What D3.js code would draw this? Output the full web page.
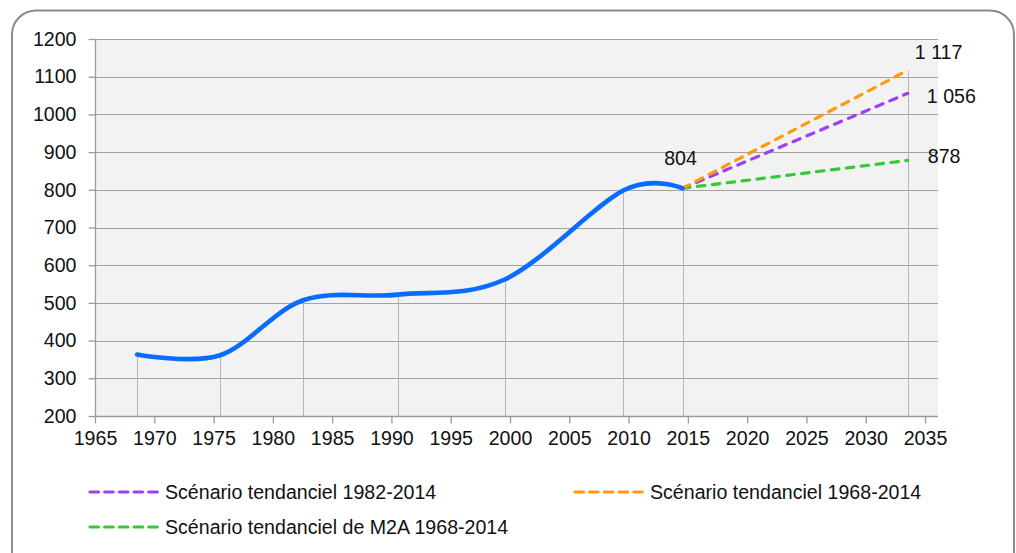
<!DOCTYPE html>
<html lang="fr">
<head>
<meta charset="utf-8">
<script src="https://cdn.jsdelivr.net/npm/d3@7"></script>
<style>
  html, body { margin: 0; padding: 0; background: #ffffff; }
  svg { display: block; font-family: "Liberation Sans", Arial, sans-serif; }
</style>
</head>
<body>
<svg id="chart" width="1016" height="553"></svg>
<script>
// Population observée aux recensements (milliers)
const censusYears = [1968, 1975, 1982, 1990, 1999, 2009, 2014];
const population  = [363, 361, 507, 522, 562, 798, 804];

// Projections à l'horizon 2033, depuis la dernière valeur observée
const projectionYears = [2014, 2033];
const scenarioNames = [
  "Scénario tendanciel 1982-2014",
  "Scénario tendanciel 1968-2014",
  "Scénario tendanciel de M2A 1968-2014"
];
const scenarioValues = [
  [804, 1056],
  [804, 1117],
  [804, 878]
];
const scenarioLabels = ["1 056", "1 117", "878"];
const lastObservedLabel = "804";

// Axes
const xTicks = d3.range(1965, 2036, 5);
const yTicks = d3.range(200, 1201, 100);

// Mise en page
const plot = { left: 95, right: 938, top: 39, bottom: 416 };
const colors = { observed: "#0a6cff", s1982: "#9d3ff5", s1968: "#ff9a0a", m2a: "#36c936" };
const scenarioColors = [colors.s1982, colors.s1968, colors.m2a];
const MID_YEAR = 0.55; // les points sont placés en milieu d'année
const FONT = "19.6px";

const svg = d3.select("#chart");

// Cadre arrondi
svg.append("rect")
  .attr("x", 12).attr("y", 10.5)
  .attr("width", 1002).attr("height", 570)
  .attr("rx", 24).attr("ry", 24)
  .attr("fill", "#ffffff")
  .attr("stroke", "#8c8c8c").attr("stroke-width", 2);

const x = d3.scaleLinear().domain([1965, 2035]).range([plot.left, 925]);
const y = d3.scaleLinear().domain([200, 1200]).range([plot.bottom, plot.top]);

// Zone de tracé
svg.append("rect")
  .attr("x", plot.left).attr("y", plot.top)
  .attr("width", plot.right - plot.left).attr("height", plot.bottom - plot.top)
  .attr("fill", "#f2f2f2");

// Quadrillage horizontal
svg.append("g").selectAll("line").data(yTicks).join("line")
  .attr("x1", plot.left).attr("x2", plot.right)
  .attr("y1", d => Math.round(y(d)) + 0.5).attr("y2", d => Math.round(y(d)) + 0.5)
  .attr("stroke", "#a2a2a2").attr("stroke-width", 1.2);

// Lignes de projection verticales (drop lines)
const dropPoints = censusYears.map((yr, i) => ({ yr, v: population[i] }));
dropPoints.push({ yr: projectionYears[1], v: d3.max(scenarioValues, s => s[1]) });
svg.append("g").selectAll("line").data(dropPoints).join("line")
  .attr("x1", d => Math.round(x(d.yr + MID_YEAR)) + 0.5)
  .attr("x2", d => Math.round(x(d.yr + MID_YEAR)) + 0.5)
  .attr("y1", d => y(d.v)).attr("y2", plot.bottom)
  .attr("stroke", "#b4b4b4").attr("stroke-width", 1);

// Axe Y
const yAxis = svg.append("g")
  .attr("transform", `translate(${plot.left + 0.5},0)`)
  .call(d3.axisLeft(y).tickValues(yTicks).tickSize(7).tickPadding(12).tickFormat(d3.format("d")));
yAxis.select(".domain").attr("stroke", "#9a9a9a").attr("stroke-width", 1.3)
  .attr("d", `M0,${plot.top}V${plot.bottom}`);
yAxis.selectAll(".tick line").attr("stroke", "#9a9a9a").attr("stroke-width", 1.3);
yAxis.selectAll(".tick text").attr("fill", "#111").style("font-size", FONT);

// Axe X
const xAxis = svg.append("g")
  .attr("transform", `translate(0,${plot.bottom + 0.5})`)
  .call(d3.axisBottom(x).tickValues(xTicks).tickSize(7).tickPadding(8).tickFormat(d3.format("d")));
xAxis.select(".domain").attr("stroke", "#9a9a9a").attr("stroke-width", 1.3)
  .attr("d", `M${plot.left},0H${plot.right}`);
xAxis.selectAll(".tick line").attr("stroke", "#9a9a9a").attr("stroke-width", 1.3);
xAxis.selectAll(".tick text").attr("fill", "#111").style("font-size", FONT);

// Scénarios (tirets)
const projLine = d3.line()
  .x((d, i) => x(projectionYears[i] + MID_YEAR))
  .y(d => y(d));
// ordre de tracé : vert, violet, orange
[2, 0, 1].forEach(k => {
  svg.append("path")
    .datum(scenarioValues[k])
    .attr("d", projLine)
    .attr("fill", "none")
    .attr("stroke", scenarioColors[k])
    .attr("stroke-width", 3.2)
    .attr("stroke-dasharray", "7.5,7.5")
    .attr("stroke-linecap", "round");
});

// Population observée (courbe lissée)
const obsLine = d3.line()
  .x((d, i) => x(censusYears[i] + MID_YEAR))
  .y(d => y(d))
  .curve(d3.curveCardinal.tension(0));
svg.append("path")
  .datum(population)
  .attr("d", obsLine)
  .attr("fill", "none")
  .attr("stroke", colors.observed)
  .attr("stroke-width", 4.6)
  .attr("stroke-linecap", "round")
  .attr("stroke-linejoin", "round");

// Étiquettes de valeurs
const lastX = x(censusYears[censusYears.length - 1] + MID_YEAR);
svg.append("text")
  .attr("x", lastX - 2).attr("y", y(population[population.length - 1]) - 23)
  .attr("text-anchor", "middle")
  .attr("fill", "#111").style("font-size", FONT)
  .text(lastObservedLabel);

const endX = x(projectionYears[1] + MID_YEAR);
const labelOffsets = [
  { dx: 19, dy: 10 },   // 1 056
  { dx: 7, dy: -11 },   // 1 117
  { dx: 20, dy: 3 }     // 878
];
scenarioValues.forEach((s, k) => {
  svg.append("text")
    .attr("x", endX + labelOffsets[k].dx)
    .attr("y", y(s[1]) + labelOffsets[k].dy)
    .attr("fill", "#111").style("font-size", FONT)
    .text(scenarioLabels[k]);
});

// Légende
const legendItems = [
  { name: scenarioNames[0], color: scenarioColors[0], x: 88, y: 492 },
  { name: scenarioNames[1], color: scenarioColors[1], x: 573, y: 492 },
  { name: scenarioNames[2], color: scenarioColors[2], x: 88, y: 527 }
];
const legend = svg.append("g").selectAll("g").data(legendItems).join("g")
  .attr("transform", d => `translate(${d.x},${d.y})`);
legend.append("line")
  .attr("x1", 2).attr("x2", 70).attr("y1", 0).attr("y2", 0)
  .attr("stroke", d => d.color).attr("stroke-width", 3.2)
  .attr("stroke-dasharray", "8.5,6.2").attr("stroke-linecap", "round");
legend.append("text")
  .attr("x", 77).attr("y", 7)
  .attr("fill", "#111").style("font-size", FONT)
  .text(d => d.name);
</script>
</body>
</html>
